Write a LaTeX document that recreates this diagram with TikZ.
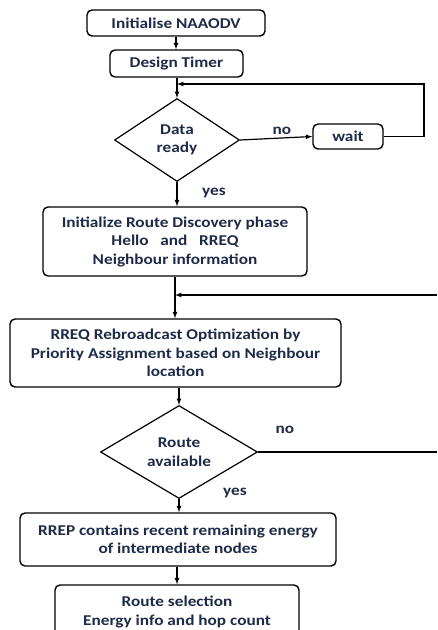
\documentclass[tikz,border=0pt]{standalone}
\usepackage{fontspec}
\setmainfont{Carlito}[FakeStretch=1.15]
\usepackage{xcolor}
\usepackage{tikz}
\usetikzlibrary{shapes.geometric}
\definecolor{txtnavy}{HTML}{1F2A48}

\begin{document}
\begin{tikzpicture}[
	x=1pt,
	y=-1pt,
	>=latex,
	stepbox/.style={
		rectangle,
		rounded corners=5pt,
		draw=black,
		line width=1.4pt,
		align=center,
		inner sep=2pt
		},
	decision/.style={
		diamond,
		draw=black,
		line width=1.2pt,
		align=center,
		inner sep=0pt
	},
	flow/.style={
		->,
		line width=1.2pt
	},
	every node/.style={font=\fontsize{15}{18.5}\bfseries\selectfont, text=txtnavy}
]
\clip (0,0) rectangle (437,630);

% Steps
\node [stepbox, minimum width=178pt, minimum height=26pt] (Init) at (176,23) {Initialise NAAODV};
\node [stepbox, minimum width=133pt, minimum height=27pt] (Timer) at (176.5,63.5) {Design Timer};
\node [decision, minimum width=125pt, minimum height=83pt] (Ready) at (177,140) {Data\\ready};
\node [stepbox, minimum width=70pt, minimum height=25pt] (Wait) at (348,136.5) {wait};
\node [stepbox, minimum width=264pt, minimum height=69pt] (Discover) at (175,241.5) {Initialize Route Discovery phase\\Hello~~ and~~ RREQ\\Neighbour information};
\node [stepbox, minimum width=331pt, minimum height=68pt] (Rebroadcast) at (175.5,353) {RREQ Rebroadcast Optimization by\\Priority Assignment based on Neighbour\\location};
\node [decision, minimum width=157pt, minimum height=93pt] (Route) at (179,452) {Route\\available};
\node [stepbox, minimum width=316pt, minimum height=53pt] (RREP) at (178,539.5) {RREP contains recent remaining energy\\of intermediate nodes};
\node [stepbox, minimum width=244pt, minimum height=54pt] (Select) at (177,612) {Route selection\\Energy info and hop count};

% Labels
\node (No1) at (282,131) {no};
\node (Yes1) at (214,193) {yes};
\node (No2) at (285,430) {no};
\node (Yes2) at (235,493) {yes};

% Connectors
\coordinate (LoopTop) at (424,84);
\coordinate (BackIn) at (437,295);
\coordinate (NoOut) at (437,452);
\draw [flow] (Init) -- (Init.south |- Timer.north);
\draw [flow] (Timer.south -| Ready.north) -- (Ready.north);
\draw [flow] (Ready.east) -- (Wait.west);
\draw [flow] (Wait.east) -| (LoopTop) -- (Ready.north |- LoopTop);
\draw [flow] (Ready.south) -- (Ready.south |- Discover.north);
\draw [flow] (Discover.south) -- (Discover.south |- Rebroadcast.north);
\draw [flow] (BackIn) -- (Discover.south |- BackIn);
\draw [flow] (Rebroadcast.south -| Route.north) -- (Route.north);
\draw [line width=1.2pt] (Route.east) -- (NoOut);
\draw [flow] (Route.south) -- (Route.south |- RREP.north);
\draw [flow] (RREP.south -| Select.north) -- (Select.north);
\end{tikzpicture}
\end{document}
